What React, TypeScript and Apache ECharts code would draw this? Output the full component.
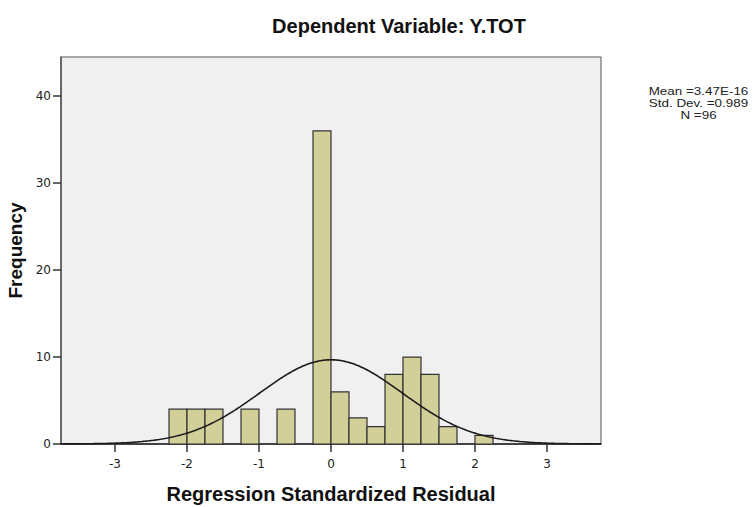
import React, { useEffect, useRef } from "react";
import * as echarts from "echarts";

// Histogram bins (lower edge, upper edge, frequency)
const binStarts = [-2.25, -2.0, -1.75, -1.25, -0.75, -0.25, 0.0, 0.25, 0.5, 0.75, 1.0, 1.25, 1.5, 2.0];
const binEnds = [-2.0, -1.75, -1.5, -1.0, -0.5, 0.0, 0.25, 0.5, 0.75, 1.0, 1.25, 1.5, 1.75, 2.25];
const frequencies = [4, 4, 4, 4, 4, 36, 6, 3, 2, 8, 10, 8, 2, 1];

const xTicks = [-3, -2, -1, 0, 1, 2, 3];
const yTicks = [0, 10, 20, 30, 40];

const statMean = 3.47e-16;
const statSd = 0.989;
const statN = 96;
const binWidth = 0.25;
const statLines = ["Mean =3.47E-16", "Std. Dev. =0.989", "N =96"];

const FONT = "'Liberation Sans', Arial, sans-serif";
const TICKFONT = "'DejaVu Sans', sans-serif";

export default function App() {
  const ref = useRef<HTMLDivElement>(null);
  useEffect(() => {
    document.body.style.margin = "0";
    if (!ref.current) return;
    const chart = echarts.init(ref.current, null, { renderer: "svg" });

    const barData = binStarts.map((s, i) => [s, binEnds[i], frequencies[i]]);
    const curve: number[][] = [];
    for (let x = -3.75; x <= 3.7501; x += 0.02) {
      const z = (x - statMean) / statSd;
      const y = (statN * binWidth) / (statSd * Math.sqrt(2 * Math.PI)) * Math.exp(-0.5 * z * z);
      curve.push([x, y]);
    }

    chart.setOption({
      animation: false,
      backgroundColor: "#ffffff",
      textStyle: { fontFamily: FONT },
      title: {
        text: "Dependent Variable: Y.TOT",
        left: 394,
        top: 11,
        textAlign: "center",
        textStyle: { fontFamily: FONT, fontSize: 20, fontWeight: "bold", color: "#111" },
      },
      grid: {
        left: 61,
        top: 57,
        right: 153,
        bottom: 63,
        outerBoundsMode: "none",
        containLabel: false,
        show: true,
        backgroundColor: "#f0f0f0",
        borderColor: "#555555",
        borderWidth: 1,
      },
      xAxis: {
        type: "value",
        min: -3.75,
        max: 3.75,
        name: "Regression Standardized Residual",
        nameLocation: "middle",
        nameGap: 40,
        nameTextStyle: { fontFamily: FONT, fontSize: 20, fontWeight: "bold", color: "#111" },
        splitLine: { show: false },
        axisLine: { show: true, onZero: false, lineStyle: { color: "#222", width: 1.5 } },
        axisTick: { show: true, customValues: xTicks, length: 8, lineStyle: { color: "#333", width: 1.5 } },
        axisLabel: { customValues: xTicks, margin: 14, fontSize: 12, color: "#222", fontFamily: TICKFONT },
      },
      yAxis: {
        type: "value",
        min: 0,
        max: 44.5,
        name: "Frequency",
        nameLocation: "middle",
        nameGap: 36,
        nameRotate: 90,
        nameTextStyle: { fontFamily: FONT, fontSize: 19, fontWeight: "bold", color: "#111" },
        splitLine: { show: false },
        axisLine: { show: true, onZero: false, lineStyle: { color: "#555", width: 1.5 } },
        axisTick: { show: true, customValues: yTicks, length: 8, lineStyle: { color: "#333", width: 1.5 } },
        axisLabel: { customValues: yTicks, margin: 10, fontSize: 12, color: "#222", fontFamily: TICKFONT },
      },
      series: [
        {
          type: "custom",
          data: barData,
          encode: { x: [0, 1], y: 2 },
          renderItem: (params: any, api: any) => {
            const p0 = api.coord([api.value(0), api.value(2)]);
            const p1 = api.coord([api.value(1), 0]);
            return {
              type: "rect",
              shape: { x: p0[0], y: p0[1], width: p1[0] - p0[0], height: p1[1] - p0[1] },
              style: { fill: "#d3cf98", stroke: "#333333", lineWidth: 1.2 },
            };
          },
          z: 2,
        },
        {
          type: "line",
          data: curve,
          showSymbol: false,
          symbol: "none",
          lineStyle: { color: "#1a1a1a", width: 1.6 },
          z: 3,
        },
      ],
      graphic: [
        {
          type: "text",
          x: 698.5,
          y: 86,
          scaleX: 1.28,
          style: {
            text: statLines.join("\n"),
            fontFamily: FONT,
            fontSize: 10.5,
            lineHeight: 12,
            fill: "#222",
            align: "center",
            verticalAlign: "top",
          },
        },
      ],
    });
    return () => chart.dispose();
  }, []);
  return <div ref={ref} style={{ width: 754, height: 507 }} />;
}
